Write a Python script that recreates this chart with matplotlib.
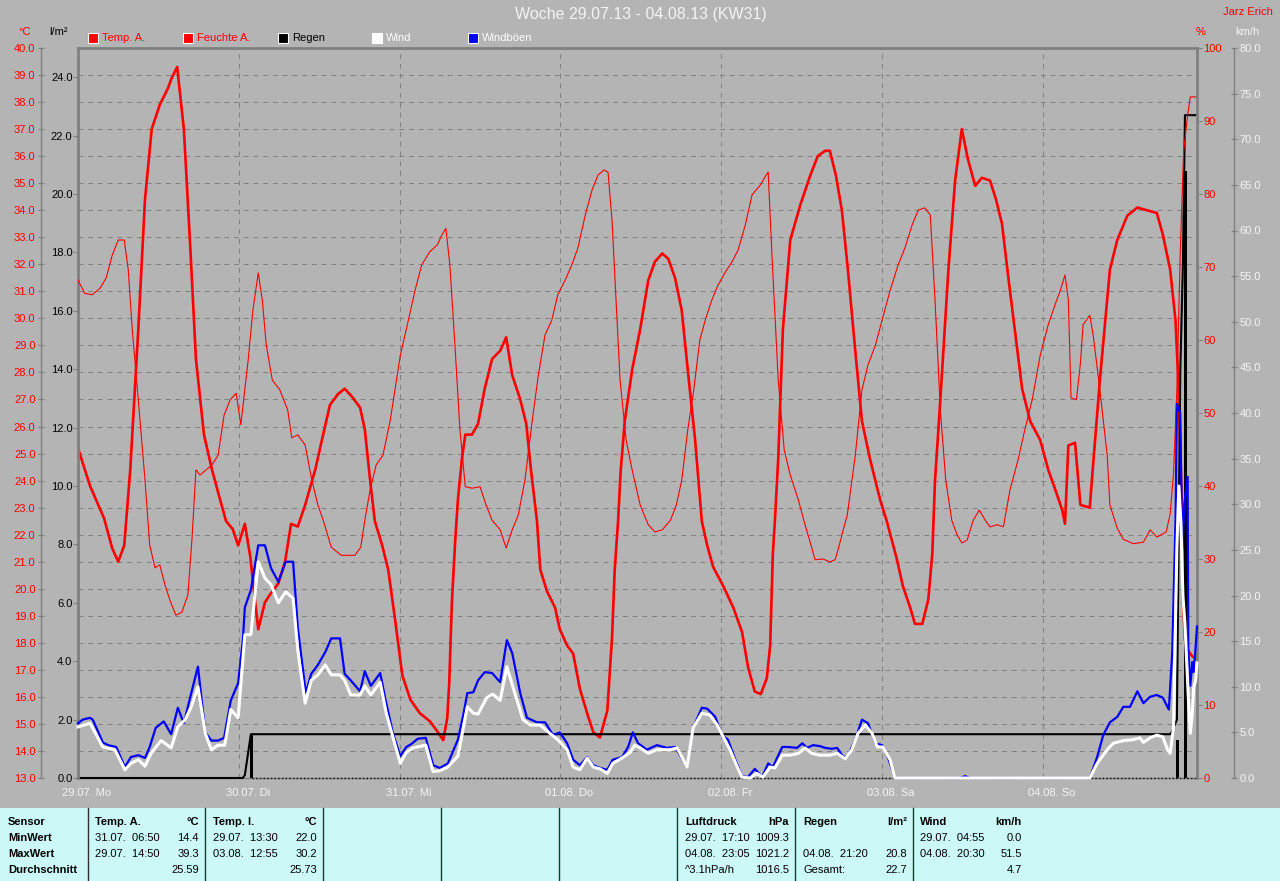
import matplotlib
matplotlib.use("Agg")
import matplotlib.pyplot as plt
from matplotlib.patches import Rectangle
from matplotlib.lines import Line2D
from matplotlib.ticker import FormatStrFormatter
import numpy as np

plt.rcParams['font.family'] = ['Liberation Sans', 'DejaVu Sans']

# ---- data (hours since 29.07.13 00:00) ----
temp_h = [0.0, 1.8, 3.9, 5.1, 6.0, 6.9, 7.8, 9.0, 10.0, 11.0,
          12.2, 13.4, 14.0, 14.8, 15.8, 16.7, 17.6, 18.8, 20.0, 21.2,
          22.1, 23.1, 23.9, 24.9, 25.7, 26.4, 26.9, 27.9, 28.7, 29.9,
          30.9, 31.8, 32.8, 33.9, 35.4, 36.4, 37.6, 38.8, 39.8, 40.9,
          42.1, 42.8, 43.6, 44.3, 45.4, 46.3, 47.3, 48.4, 49.6, 51.0,
          52.5, 53.7, 54.5, 55.1, 55.4, 55.8, 56.3, 56.7, 57.3, 57.8,
          58.8, 59.7, 60.7, 61.8, 63.0, 63.9, 64.8, 66.0, 66.9, 67.6,
          68.5, 69.0, 70.0, 71.2, 71.9, 73.0, 73.9, 74.9, 76.1, 76.9,
          77.9, 79.0, 79.7, 80.1, 80.6, 81.0, 81.6, 82.7, 83.9, 85.1,
          86.1, 87.2, 88.1, 89.1, 90.1, 91.0, 92.1, 93.1, 93.9, 94.8,
          96.3, 97.8, 99.1, 100.0, 101.0, 101.9, 102.8, 103.3, 103.7, 104.0,
          104.5, 105.2, 106.3, 107.8, 109.3, 110.4, 111.5, 112.2, 113.1, 114.0,
          114.9, 116.0, 117.0, 118.2, 119.7, 120.7, 122.2, 123.1, 124.2, 124.9,
          126.0, 126.9, 127.5, 127.9, 128.7, 129.9, 130.9, 131.9, 132.8, 133.9,
          134.9, 136.1, 137.0, 137.9, 138.8, 139.8, 140.9, 142.1, 143.6, 144.8,
          145.8, 146.9, 147.3, 147.8, 148.8, 149.6, 151.0, 151.5, 152.5, 154.0,
          155.1, 156.6, 158.1, 159.5, 161.0, 161.9, 163.0, 163.8, 164.2, 164.8,
          164.9, 165.2, 165.7, 166.3, 167.0]
temp_c = [25.2, 23.8, 22.6, 21.5, 21.0, 21.6, 24.4, 29.6, 34.4, 37.0,
          37.9, 38.5, 38.9, 39.3, 37.0, 32.9, 28.5, 25.7, 24.4, 23.3,
          22.5, 22.2, 21.6, 22.4, 21.2, 19.6, 18.5, 19.5, 19.8, 20.2,
          21.0, 22.4, 22.3, 23.1, 24.4, 25.5, 26.8, 27.2, 27.4, 27.1,
          26.7, 25.9, 24.0, 22.5, 21.6, 20.7, 18.9, 16.8, 15.9, 15.4,
          15.1, 14.7, 14.4, 15.2, 16.5, 19.5, 21.8, 23.3, 24.8, 25.7,
          25.7, 26.1, 27.4, 28.5, 28.8, 29.3, 27.9, 27.0, 26.1, 24.4,
          22.5, 20.7, 19.9, 19.3, 18.5, 17.9, 17.6, 16.3, 15.3, 14.7,
          14.5, 15.5, 18.2, 20.7, 22.5, 24.4, 26.2, 28.1, 29.6, 31.4,
          32.1, 32.4, 32.2, 31.5, 30.3, 28.1, 25.5, 22.5, 21.6, 20.8,
          20.1, 19.3, 18.4, 17.1, 16.2, 16.1, 16.7, 17.9, 21.3, 22.5,
          24.8, 29.6, 32.9, 34.2, 35.3, 36.0, 36.2, 36.2, 35.3, 34.0,
          31.8, 28.8, 26.2, 24.8, 23.3, 22.5, 21.1, 20.1, 19.3, 18.7,
          18.7, 19.6, 21.3, 24.0, 27.0, 31.8, 35.1, 37.0, 35.9, 34.9,
          35.2, 35.1, 34.4, 33.5, 31.6, 29.6, 27.4, 26.2, 25.5, 24.4,
          23.7, 22.9, 22.4, 25.3, 25.4, 23.1, 23.0, 24.6, 27.7, 31.8,
          32.9, 33.8, 34.1, 34.0, 33.9, 33.1, 31.8, 29.9, 27.7, 22.6,
          19.6, 18.1, 17.7, 17.5, 17.4]

hum_h = [0.0, 1.0, 2.1, 3.3, 4.2, 5.1, 6.0, 6.9, 7.5, 8.1,
         9.0, 10.0, 10.7, 11.5, 12.2, 13.0, 13.7, 14.6, 15.5, 16.4,
         17.0, 17.6, 18.2, 19.1, 20.0, 20.9, 21.8, 22.7, 23.6, 24.3,
         25.4, 26.1, 26.9, 27.5, 28.1, 29.0, 30.1, 31.3, 31.9, 32.8,
         33.9, 34.9, 35.8, 36.6, 37.8, 39.3, 41.3, 42.2, 42.8, 43.6,
         44.5, 45.5, 46.6, 48.1, 49.3, 50.3, 51.3, 52.5, 53.6, 54.3,
         54.9, 55.5, 56.3, 57.0, 57.8, 58.8, 60.0, 60.9, 61.8, 63.0,
         63.9, 64.8, 65.7, 66.7, 67.8, 68.7, 69.7, 70.7, 71.6, 72.7,
         73.7, 74.6, 75.7, 76.7, 77.6, 78.5, 79.1, 79.7, 80.3, 80.9,
         81.8, 82.7, 83.9, 85.1, 86.1, 87.2, 88.4, 89.3, 90.1, 91.0,
         91.9, 92.8, 93.7, 94.6, 95.5, 96.6, 97.6, 98.5, 99.6, 100.6,
         101.8, 102.7, 103.0, 103.6, 104.5, 105.4, 106.3, 107.5, 108.5, 109.3,
         110.0, 111.2, 112.2, 113.0, 113.7, 114.2, 114.8, 116.0, 117.0, 117.9,
         119.0, 120.0, 121.2, 122.4, 123.4, 124.5, 125.4, 126.4, 127.2, 127.9,
         128.7, 129.5, 130.4, 131.2, 131.9, 132.7, 133.6, 134.5, 135.4, 136.1,
         137.2, 138.1, 139.1, 140.3, 141.3, 142.4, 143.6, 144.8, 145.8, 146.6,
         147.3, 147.8, 148.2, 149.0, 149.6, 150.0, 151.0, 151.5, 152.5, 153.6,
         154.0, 155.1, 156.0, 157.5, 159.0, 160.0, 161.0, 162.4, 163.0, 163.5,
         164.0, 164.5, 165.0, 165.6, 166.0, 167.0]
hum_pct = [68.2, 66.4, 66.2, 67.1, 68.5, 71.6, 73.7, 73.7, 69.6, 61.4,
           51.8, 40.8, 31.9, 28.8, 29.2, 26.4, 24.4, 22.3, 22.7, 25.1,
           32.6, 42.2, 41.5, 42.2, 42.9, 44.2, 49.7, 51.8, 52.7, 48.4,
           57.3, 64.1, 69.2, 65.5, 59.3, 54.5, 53.2, 50.4, 46.6, 47.0,
           45.6, 40.8, 37.4, 35.3, 31.6, 30.5, 30.5, 31.6, 35.3, 39.5,
           42.9, 44.2, 49.0, 57.9, 62.7, 66.8, 70.3, 72.1, 73.0, 74.4,
           75.3, 70.3, 58.6, 47.7, 39.9, 39.7, 39.9, 37.4, 35.3, 34.0,
           31.5, 34.0, 36.0, 40.8, 49.0, 55.2, 60.7, 62.7, 66.2, 68.2,
           70.3, 72.6, 77.1, 80.5, 82.6, 83.3, 83.0, 76.4, 65.5, 54.5,
           46.3, 42.2, 37.4, 34.7, 33.7, 34.0, 35.3, 37.4, 40.8, 47.7,
           53.2, 60.0, 63.0, 65.5, 67.5, 69.3, 70.7, 72.3, 75.8, 79.9,
           81.2, 82.6, 83.0, 71.0, 54.5, 44.9, 41.5, 38.1, 34.7, 32.2,
           29.9, 30.0, 29.6, 29.9, 32.2, 34.0, 36.0, 44.2, 53.2, 56.6,
           59.3, 62.7, 66.8, 70.3, 72.6, 75.8, 77.8, 78.1, 77.1, 65.5,
           50.4, 40.8, 35.3, 33.3, 32.2, 32.6, 35.3, 36.7, 35.3, 34.4,
           34.7, 34.4, 39.5, 43.6, 47.7, 51.8, 57.9, 62.1, 64.8, 66.8,
           68.9, 65.5, 52.1, 51.8, 56.8, 62.1, 63.4, 60.7, 53.2, 44.2,
           37.4, 34.2, 32.7, 32.1, 32.3, 34.0, 33.0, 33.7, 36.2, 41.8,
           53.2, 71.9, 85.8, 90.8, 93.3, 93.3]

gust_h = [0.0, 0.7, 1.8, 2.2, 3.7, 4.5, 5.7, 7.0, 7.9, 9.0,
          10.0, 10.7, 11.6, 12.8, 13.9, 14.9, 15.8, 16.9, 17.9, 19.0,
          19.9, 20.9, 21.8, 22.8, 23.9, 24.6, 24.9, 25.8, 26.9, 27.9,
          28.8, 29.9, 31.0, 32.1, 32.8, 34.0, 34.8, 35.8, 36.9, 37.8,
          39.1, 39.8, 40.7, 42.1, 42.8, 43.7, 45.1, 45.8, 47.0, 48.1,
          49.0, 49.7, 50.7, 51.9, 53.0, 54.0, 55.2, 56.7, 57.5, 58.1,
          59.0, 59.7, 60.7, 61.8, 63.0, 64.0, 64.8, 66.0, 67.0, 68.5,
          69.7, 70.9, 71.9, 73.0, 73.9, 74.9, 76.0, 76.9, 77.9, 79.0,
          79.8, 81.2, 82.1, 82.8, 83.6, 84.9, 86.4, 87.9, 89.1, 90.9,
          91.8, 93.1, 93.9, 95.1, 96.1, 97.0, 98.1, 99.1, 100.0, 101.0,
          102.1, 103.0, 103.7, 105.1, 106.0, 107.3, 108.1, 108.8, 109.7, 110.7,
          111.5, 112.5, 113.3, 114.2, 114.9, 116.0, 117.0, 117.9, 119.0, 120.0,
          120.9, 121.9, 131.6, 132.4, 133.1, 151.0, 152.1, 153.0, 154.0, 155.1,
          156.0, 157.0, 158.1, 159.0, 160.0, 161.0, 161.9, 162.8, 163.3, 163.8,
          164.0, 164.5, 164.8, 165.1, 165.6, 165.7, 166.0, 166.3, 166.5, 166.8,
          167.0]
gust_kmh = [6.0, 6.4, 6.6, 6.4, 3.9, 3.6, 3.4, 1.2, 2.3, 2.5,
            2.2, 3.4, 5.5, 6.2, 4.8, 7.7, 6.0, 9.3, 12.2, 5.0,
            4.1, 4.1, 4.4, 8.5, 10.4, 15.1, 18.7, 20.6, 25.5, 25.5,
            23.0, 21.5, 23.7, 23.7, 16.5, 9.3, 11.4, 12.4, 13.8, 15.3,
            15.3, 11.4, 10.7, 9.5, 11.7, 10.1, 11.5, 8.9, 4.9, 2.4,
            3.4, 3.7, 4.3, 4.4, 1.4, 1.1, 1.6, 4.2, 6.9, 9.3,
            9.4, 10.7, 11.6, 11.5, 10.5, 15.1, 13.7, 9.3, 6.6, 6.1,
            6.1, 4.7, 5.0, 3.8, 2.0, 1.4, 2.3, 1.4, 1.1, 0.9,
            2.0, 2.3, 3.4, 5.0, 3.8, 3.1, 3.6, 3.3, 3.4, 1.2,
            5.5, 7.7, 7.6, 6.7, 4.7, 4.2, 2.0, 0.2, 0.1, 1.0,
            0.1, 1.6, 1.2, 3.4, 3.4, 3.3, 3.8, 3.3, 3.6, 3.5,
            3.3, 3.2, 3.3, 2.3, 2.4, 4.2, 6.4, 6.0, 3.8, 3.6,
            2.2, 0.0, 0.0, 0.2, 0.0, 0.0, 2.3, 4.7, 6.1, 6.7,
            7.8, 7.8, 9.5, 8.2, 8.9, 9.1, 8.8, 7.5, 13.7, 28.3,
            41.0, 40.0, 25.0, 30.0, 33.0, 14.2, 10.1, 12.7, 11.6, 14.4,
            16.6]

wind_h = [0.0, 1.8, 3.7, 5.5, 7.0, 7.9, 9.0, 10.0, 10.9, 12.4,
          13.9, 14.9, 16.0, 16.9, 17.9, 19.0, 19.9, 20.9, 21.9, 22.8,
          23.9, 24.9, 25.8, 26.9, 27.9, 28.8, 29.9, 31.0, 32.1, 32.8,
          33.9, 34.8, 35.8, 36.9, 37.8, 39.1, 39.8, 40.7, 42.1, 42.8,
          43.7, 45.1, 46.0, 47.0, 48.1, 49.0, 50.0, 51.9, 53.0, 54.0,
          55.2, 56.7, 58.1, 59.0, 59.7, 61.0, 61.9, 63.0, 64.0, 64.9,
          66.4, 67.5, 69.0, 70.4, 71.6, 73.0, 73.9, 74.9, 76.0, 76.9,
          77.9, 79.0, 79.8, 81.2, 82.4, 83.1, 83.9, 85.1, 86.4, 88.4,
          89.4, 90.9, 91.8, 93.1, 94.3, 95.4, 96.3, 97.3, 98.4, 99.1,
          100.3, 101.3, 102.2, 103.3, 104.0, 105.1, 106.3, 107.5, 108.5, 109.5,
          110.7, 112.2, 113.3, 114.5, 115.5, 116.4, 117.5, 118.5, 119.3, 120.1,
          121.2, 121.9, 151.0, 152.1, 153.6, 154.5, 156.0, 157.5, 158.5, 159.0,
          160.0, 161.0, 161.9, 162.6, 163.0, 163.5, 164.0, 164.3, 164.6, 164.9,
          165.2, 165.7, 166.0, 166.3, 166.5, 166.8, 167.0]
wind_kmh = [5.6, 6.0, 3.4, 3.1, 0.9, 1.6, 2.0, 1.3, 2.7, 4.1,
            3.3, 5.6, 6.4, 7.8, 10.0, 4.9, 3.1, 3.6, 3.6, 7.5,
            6.6, 15.7, 15.7, 23.7, 21.9, 21.2, 19.2, 20.4, 19.7, 14.0,
            8.2, 10.7, 11.3, 12.4, 11.3, 11.3, 10.7, 9.1, 9.1, 10.1,
            9.1, 10.5, 7.1, 4.5, 1.6, 2.8, 3.3, 3.6, 0.7, 0.8,
            1.2, 2.4, 7.8, 7.1, 7.0, 8.8, 9.2, 8.5, 12.2, 10.0,
            6.4, 5.8, 5.8, 4.9, 4.2, 3.1, 1.2, 0.9, 2.2, 1.2,
            1.0, 0.5, 1.6, 2.2, 2.8, 3.6, 3.3, 2.7, 3.1, 3.1,
            3.3, 1.2, 5.5, 7.1, 6.9, 5.8, 4.5, 3.1, 1.2, 0.1,
            0.0, 0.5, 0.1, 1.2, 1.1, 2.5, 2.5, 2.7, 3.3, 2.7,
            2.5, 2.5, 2.7, 2.1, 3.1, 4.9, 5.8, 4.9, 3.4, 3.4,
            2.0, 0.0, 0.0, 1.6, 3.1, 3.8, 4.1, 4.2, 4.4, 3.9,
            4.4, 4.7, 4.5, 3.1, 2.7, 5.6, 25.3, 32.0, 28.0, 20.0,
            16.9, 8.9, 4.9, 7.1, 9.9, 10.7, 12.6]

rain_sum_h = [0.0, 24.6, 24.9, 25.8, 163.0, 163.3, 164.0, 164.5, 164.9, 165.2, 167.0]
rain_sum = [0.0, 0.0, 0.1, 1.5, 1.5, 1.6, 2.0, 13.9, 17.6, 22.7, 22.7]
rain_bar_h = [25.9, 164.1, 165.3]
rain_bar = [1.5, 1.3, 20.8]

day_labels = ['29.07. Mo', '30.07. Di', '31.07. Mi', '01.08. Do',
              '02.08. Fr', '03.08. Sa', '04.08. So']

legend_names = ['Temp. A.', 'Feuchte A.', 'Regen', 'Wind', 'Windböen']

row_names = ['Sensor', 'MinWert', 'MaxWert', 'Durchschnitt']
sensor_names = ['Temp. A.', 'Temp. I.', 'Luftdruck', 'Regen', 'Wind']
sensor_units = ['°C', '°C', 'hPa', 'l/m²', 'km/h']
min_when = ['31.07.  06:50', '29.07.  13:30', '29.07.  17:10', '', '29.07.  04:55']
min_val = ['14.4', '22.0', '1009.3', '', '0.0']
max_when = ['29.07.  14:50', '03.08.  12:55', '04.08.  23:05', '04.08.  21:20', '04.08.  20:30']
max_val = ['39.3', '30.2', '1021.2', '20.8', '51.5']
avg_when = ['', '', '^3.1hPa/h', 'Gesamt:', '']
avg_val = ['25.59', '25.73', '1016.5', '22.7', '4.7']

# ---- style ----
BG = '#b4b4b4'
GRID = '#808080'
LIGHT = '#f4f4f4'
CYAN = '#ccf8f8'
W, H = 1280, 881


def fx(px):
    return px / W


def fy(py):
    return 1 - py / H


fig = plt.figure(figsize=(12.8, 8.81), dpi=100, facecolor=BG)

axT = fig.add_axes([fx(78), fy(778), (1197 - 78) / W, (778 - 48) / H], facecolor=BG)
axR = axT.twinx()
axH = axT.twinx()
axW = axT.twinx()

axT.set_xlim(0, 167)
axT.set_ylim(13, 40)
axR.set_ylim(0, 25)
axH.set_ylim(0, 100)
axW.set_ylim(0, 80)

for a in (axT, axR, axH, axW):
    for s in a.spines.values():
        s.set_visible(False)
        s.set_color(GRID)

axT.spines['left'].set_visible(True)
axT.spines['left'].set_position(('outward', 26.6))
axT.spines['left'].set_linewidth(1)
axT.spines['top'].set_visible(True)
axT.spines['top'].set_linewidth(2)
axT.spines['bottom'].set_visible(True)
axT.spines['bottom'].set_linewidth(1)
axR.spines['left'].set_visible(True)
axR.spines['left'].set_linewidth(2)
axH.spines['right'].set_visible(True)
axH.spines['right'].set_linewidth(2)
axW.spines['right'].set_visible(True)
axW.spines['right'].set_position(('outward', 26.6))
axW.spines['right'].set_linewidth(1)

# temperature axis (far left)
axT.set_yticks(np.arange(13, 41, 1))
axT.yaxis.set_major_formatter(FormatStrFormatter('%.1f'))
axT.tick_params(axis='y', direction='inout', length=5, width=0.8, color=GRID,
                labelcolor='red', labelsize=8, pad=1.5)
axT.set_xticks(np.arange(0, 167, 24))
axT.tick_params(axis='x', length=0, labelbottom=False)
axT.grid(True, color=GRID, ls=(0, (5, 5)), lw=0.7)
axT.set_axisbelow(True)

# rain axis (plot left edge)
axR.yaxis.tick_left()
axR.set_yticks(np.arange(0, 25, 2))
axR.yaxis.set_major_formatter(FormatStrFormatter('%.1f'))
axR.tick_params(axis='y', direction='out', length=3.5, width=0.8, color=GRID,
                labelcolor='black', labelsize=8, pad=0.5)

# humidity axis (plot right edge)
axH.set_yticks(np.arange(0, 101, 10))
axH.tick_params(axis='y', direction='out', length=3.5, width=0.8, color=GRID,
                labelcolor='red', labelsize=8, pad=1)

# wind axis (far right)
axW.set_yticks(np.arange(0, 81, 5))
axW.yaxis.set_major_formatter(FormatStrFormatter('%.1f'))
axW.tick_params(axis='y', direction='inout', length=5, width=0.8, color=GRID,
                labelcolor=LIGHT, labelsize=8, pad=1.5)

# series
axT.plot(temp_h, temp_c, color='red', lw=1.9)
axR.plot([rain_bar_h[0], axT.get_xlim()[1]], [0, 0], color='black', ls=':', lw=1, clip_on=False)
axR.bar(rain_bar_h, rain_bar, width=0.45, color='black')
axR.plot(rain_sum_h, rain_sum, color='black', lw=1.5, clip_on=False)
axH.plot(hum_h, hum_pct, color='red', lw=0.8)
axW.plot(gust_h, gust_kmh, color='blue', lw=1.6, clip_on=False)
axW.plot(wind_h, wind_kmh, color='white', lw=2.2, clip_on=False)

# day labels
for i, lab in enumerate(day_labels):
    axT.text(i * 24 + 1.35, -0.02, lab, transform=axT.get_xaxis_transform(),
             ha='center', va='center', color=LIGHT, fontsize=8)

# title, author, units
fig.text(fx(641), fy(15), 'Woche 29.07.13 - 04.08.13 (KW31)', ha='center', va='center',
         color=LIGHT, fontsize=11.5)
fig.text(fx(1248), fy(12), 'Jarz Erich', ha='center', va='center', color='red', fontsize=8)
fig.text(fx(25), fy(32), '°C', ha='center', va='center', color='red', fontsize=8)
fig.text(fx(59), fy(32), 'l/m²', ha='center', va='center', color='black', fontsize=8)
fig.text(fx(1201), fy(32), '%', ha='center', va='center', color='red', fontsize=8)
fig.text(fx(1247), fy(32), 'km/h', ha='center', va='center', color=LIGHT, fontsize=8)

# legend row
leg_sq = [88, 183, 278, 372, 468]
leg_fc = ['red', 'red', 'black', 'white', 'blue']
leg_tc = ['red', 'red', 'black', 'white', 'white']
for x, name, fc, tc in zip(leg_sq, legend_names, leg_fc, leg_tc):
    fig.add_artist(Rectangle((fx(x), fy(43)), 10 / W, 10 / H, transform=fig.transFigure,
                             fc=fc, ec='white', lw=0.8))
    fig.text(fx(x + 14), fy(38), name, ha='left', va='center', color=tc, fontsize=8)

# statistics table
fig.add_artist(Rectangle((0, 0), 1, fy(808), transform=fig.transFigure,
                         fc=CYAN, ec='none', zorder=0))
for x in [88, 205, 323, 441, 559, 677, 795, 913]:
    fig.add_artist(Line2D([fx(x), fx(x)], [0, fy(808)], color='#303030', lw=1))

TS = 8
rows_y = [822, 838, 854, 870]
for y, name in zip(rows_y, row_names):
    fig.text(fx(8), fy(y), name, ha='left', va='center', fontsize=TS, fontweight='bold')

col_left = [95, 213, 685, 803, 920]
col_right = [199, 317, 789, 907, 1022]
for i in range(len(sensor_names)):
    xl, xr = fx(col_left[i]), fx(col_right[i])
    fig.text(xl, fy(rows_y[0]), sensor_names[i], ha='left', va='center', fontsize=TS, fontweight='bold')
    fig.text(xr, fy(rows_y[0]), sensor_units[i], ha='right', va='center', fontsize=TS, fontweight='bold')
    for y, w, v in zip(rows_y[1:], [min_when[i], max_when[i], avg_when[i]],
                       [min_val[i], max_val[i], avg_val[i]]):
        fig.text(xl, fy(y), w, ha='left', va='center', fontsize=TS)
        fig.text(xr, fy(y), v, ha='right', va='center', fontsize=TS)

fig.savefig('out.png', dpi=100, facecolor=BG)
